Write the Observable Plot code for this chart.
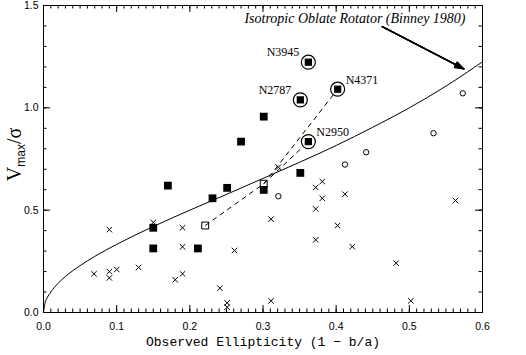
<!DOCTYPE html>
<html><head><meta charset="utf-8">
<script src="https://cdn.jsdelivr.net/npm/d3@7"></script>
<script src="https://cdn.jsdelivr.net/npm/@observablehq/plot@0.6"></script>
<style>body{margin:0;background:#fff}</style>
</head><body><div id="chart"></div>
<script>
// ---- data ----
const xMajorTicks = [0.0, 0.1, 0.2, 0.3, 0.4, 0.5, 0.6];
const yMajorTicks = [0.0, 0.5, 1.0, 1.5];
const xMinorTicks = d3.range(0, 61).map(i => i / 100);
const yMinorTicks = d3.range(0, 16).map(i => i / 10);

// isotropic oblate rotator curve
const curveX = [0, 0.002, 0.005, 0.01, 0.02, 0.03, 0.05, 0.07, 0.1, 0.15, 0.2, 0.25, 0.3, 0.35, 0.4, 0.45, 0.5, 0.55, 0.6];
const curveY = [0, 0.045, 0.071, 0.10, 0.143, 0.176, 0.229, 0.274, 0.333, 0.420, 0.500, 0.577, 0.655, 0.734, 0.816, 0.905, 1.0, 1.106, 1.225];

// filled squares
const sqX = [0.17, 0.251, 0.231, 0.15, 0.15, 0.211, 0.301, 0.351, 0.301, 0.27];
const sqY = [0.62, 0.609, 0.558, 0.414, 0.313, 0.313, 0.599, 0.682, 0.957, 0.835];

// circled filled squares with names
const namedGal = ["N3945", "N4371", "N2787", "N2950"];
const namedX = [0.362, 0.402, 0.351, 0.362];
const namedY = [1.223, 1.091, 1.039, 0.835];
const namedSide = ["left", "right", "left", "right"];

// open squares
const openSqX = [0.221, 0.301];
const openSqY = [0.425, 0.629];

// open circles
const circX = [0.321, 0.412, 0.441, 0.533, 0.573];
const circY = [0.568, 0.723, 0.783, 0.876, 1.071];

// crosses
const crossX = [0.09, 0.15, 0.19, 0.19, 0.261, 0.069, 0.09, 0.09, 0.10, 0.13, 0.18, 0.19, 0.241, 0.251, 0.251, 0.311, 0.311, 0.321, 0.372, 0.381, 0.381, 0.372, 0.412, 0.402, 0.372, 0.422, 0.482, 0.563, 0.502];
const crossY = [0.405, 0.44, 0.414, 0.321, 0.303, 0.189, 0.20, 0.169, 0.21, 0.22, 0.16, 0.189, 0.119, 0.047, 0.026, 0.057, 0.456, 0.71, 0.611, 0.64, 0.558, 0.506, 0.578, 0.425, 0.355, 0.322, 0.241, 0.547, 0.057];

// dashed connections
const dashX1 = [0.221, 0.301, 0.301];
const dashY1 = [0.425, 0.629, 0.629];
const dashX2 = [0.301, 0.402, 0.362];
const dashY2 = [0.629, 1.091, 0.835];

// annotation
const annoText = "Isotropic Oblate Rotator (Binney 1980)";
const annoX = 0.4257, annoY = 1.434;
const arrowX1 = 0.463, arrowY1 = 1.397, arrowX2 = 0.5745, arrowY2 = 1.19;

const xLabel = "Observed Ellipticity (1 \u2212 b/a)";

// ---- build ----
const W = 526, H = 355, mL = 43, mR = 44, mT = 5, mB = 43;
const innerW = W - mL - mR, innerH = H - mT - mB;
const pts = (xs, ys) => xs.map((x, i) => ({x, y: ys[i]}));
const curve = pts(curveX, curveY);
const squares = pts(sqX, sqY);
const named = namedGal.map((n, i) => ({name: n, x: namedX[i], y: namedY[i], side: namedSide[i]}));
const openSq = pts(openSqX, openSqY);
const circles = pts(circX, circY);
const crosses = pts(crossX, crossY);
const dashes = dashX1.map((d, i) => ({x1: d, y1: dashY1[i], x2: dashX2[i], y2: dashY2[i]}));
const arrow = [{x1: arrowX1, y1: arrowY1, x2: arrowX2, y2: arrowY2}];

const serif = "Liberation Serif, Times New Roman, serif";
const MAJ = 7, MIN = 3.5;

const chart = Plot.plot({
  width: W, height: H,
  marginLeft: mL, marginRight: mR, marginTop: mT, marginBottom: mB,
  style: {fontFamily: "Liberation Sans, Arial, sans-serif", fontSize: "10.5px", color: "black", background: "white"},
  x: {domain: [0, 0.6]},
  y: {domain: [0, 1.5]},
  marks: [
    // ticks (inward), all four sides
    Plot.tickX(xMinorTicks, {x: d => d, insetTop: innerH - MIN, stroke: "black"}),
    Plot.tickX(xMinorTicks, {x: d => d, insetBottom: innerH - MIN, stroke: "black"}),
    Plot.tickX(xMajorTicks, {x: d => d, insetTop: innerH - MAJ, stroke: "black"}),
    Plot.tickX(xMajorTicks, {x: d => d, insetBottom: innerH - MAJ, stroke: "black"}),
    Plot.tickY(yMinorTicks, {y: d => d, insetRight: innerW - MIN, stroke: "black"}),
    Plot.tickY(yMinorTicks, {y: d => d, insetLeft: innerW - MIN, stroke: "black"}),
    Plot.tickY(yMajorTicks, {y: d => d, insetRight: innerW - MAJ, stroke: "black"}),
    Plot.tickY(yMajorTicks, {y: d => d, insetLeft: innerW - MAJ, stroke: "black"}),
    Plot.axisX({ticks: xMajorTicks, tickSize: 0, tickPadding: 10, tickFormat: d3.format(".1f"), label: null}),
    Plot.axisY({ticks: yMajorTicks, tickSize: 0, tickPadding: 5, tickFormat: d3.format(".1f"), label: null}),
    Plot.frame({stroke: "black"}),
    // model curve
    Plot.line(curve, {x: "x", y: "y", curve: "monotone-x", stroke: "black", strokeWidth: 1}),
    // dashed connectors
    Plot.link(dashes, {x1: "x1", y1: "y1", x2: "x2", y2: "y2", stroke: "black", strokeDasharray: "5,4", strokeWidth: 1}),
    // markers
    Plot.dot(crosses, {x: "x", y: "y", symbol: "times", r: 2.6, stroke: "black", strokeWidth: 1}),
    Plot.dot(circles, {x: "x", y: "y", r: 2.7, stroke: "black", fill: "none", strokeWidth: 1}),
    Plot.dot(openSq, {x: "x", y: "y", symbol: "square", r: 3.9, stroke: "black", fill: "none", strokeWidth: 1}),
    Plot.dot(squares, {x: "x", y: "y", symbol: "square", r: 4.4, fill: "black", stroke: "none"}),
    Plot.dot(named, {x: "x", y: "y", r: 7, stroke: "black", fill: "white", strokeWidth: 1.2}),
    Plot.dot(named, {x: "x", y: "y", symbol: "square", r: 4.1, fill: "black", stroke: "none"}),
    Plot.text(named.filter(d => d.side === "left"), {x: "x", y: "y", text: "name", textAnchor: "end", dx: -9, dy: -10, fontFamily: serif, fontSize: 12, fill: "black"}),
    Plot.text(named.filter(d => d.side === "right"), {x: "x", y: "y", text: "name", textAnchor: "start", dx: 8, dy: -9.5, fontFamily: serif, fontSize: 12, fill: "black"}),
    // annotation + arrow (several head angles to fill the head)
    Plot.text([annoText], {x: () => annoX, y: () => annoY, text: d => d, fontFamily: serif, fontStyle: "italic", fontSize: 14, fill: "black"}),
    ...[38, 28, 18, 8].map(a => Plot.arrow(arrow, {x1: "x1", y1: "y1", x2: "x2", y2: "y2", stroke: "black", strokeWidth: 1.3, headAngle: a, headLength: 11})),
    // x label
    Plot.text([xLabel], {frameAnchor: "bottom", dy: 33, text: d => d, fontFamily: "Liberation Mono, Courier New, monospace", fontSize: 13, fill: "black"})
  ]
});

document.getElementById("chart").appendChild(chart);

// y-axis label with subscript
const svg = d3.select(chart);
const yl = svg.append("text")
  .attr("transform", `translate(21,${mT + innerH / 2 - 4}) rotate(-90)`)
  .attr("text-anchor", "middle")
  .attr("font-family", serif)
  .attr("font-size", 20)
  .attr("fill", "black");
yl.append("tspan").text("V");
yl.append("tspan").attr("font-size", 12).attr("font-family", "Liberation Sans, Arial, sans-serif").attr("dy", 4).text("max");
yl.append("tspan").attr("dy", -4).text("/\u03c3");
</script>
</body></html>
